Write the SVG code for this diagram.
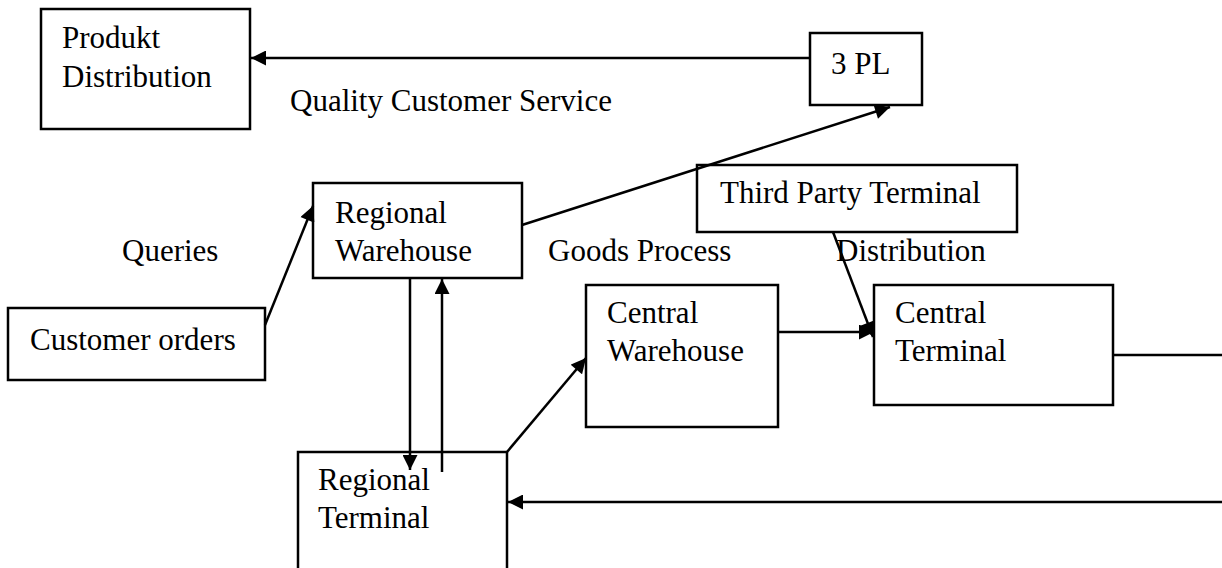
<svg xmlns="http://www.w3.org/2000/svg" width="1222" height="568" viewBox="0 0 1222 568">
<style>
.box{fill:#fff;stroke:#000;stroke-width:2.5}
.t{font-family:"Liberation Serif","Times New Roman",serif;font-size:31px;fill:#000}
.c{stroke:#000;stroke-width:2.5;fill:none}
</style>
<defs>
<marker id="ah" viewBox="0 0 10 10" refX="10" refY="5" markerWidth="16" markerHeight="15" markerUnits="userSpaceOnUse" orient="auto">
<path d="M0,0 L10,5 L0,10 z" fill="#000"/>
</marker>
</defs>
<rect width="1222" height="568" fill="#fff"/>
<g id="produkt-distribution">
<rect class="box" x="41" y="9" width="209" height="120"/>
<text class="t" x="62" y="48">Produkt</text>
<text class="t" x="62" y="87">Distribution</text>
</g>
<g id="3pl">
<rect class="box" x="810" y="33" width="112" height="72"/>
<text class="t" x="831" y="74">3 PL</text>
</g>
<g id="label-quality">
<text class="t" x="290" y="111">Quality Customer Service</text>
</g>
<g id="third-party-terminal">
<rect class="box" x="697" y="165" width="320" height="67"/>
<text class="t" x="720" y="203">Third Party Terminal</text>
</g>
<g id="regional-warehouse">
<rect class="box" x="313" y="183" width="209" height="95"/>
<text class="t" x="335" y="223">Regional</text>
<text class="t" x="335" y="261">Warehouse</text>
</g>
<g id="label-queries"><text class="t" x="122" y="261">Queries</text></g>
<g id="label-goods"><text class="t" x="548" y="261">Goods Process</text></g>
<g id="label-distribution"><text class="t" x="836" y="261">Distribution</text></g>
<g id="customer-orders">
<rect class="box" x="8" y="308" width="257" height="72"/>
<text class="t" x="30" y="350">Customer orders</text>
</g>
<g id="central-warehouse">
<rect class="box" x="586" y="285" width="192" height="142"/>
<text class="t" x="607" y="323">Central</text>
<text class="t" x="607" y="361">Warehouse</text>
</g>
<g id="central-terminal">
<rect class="box" x="874" y="285" width="239" height="120"/>
<text class="t" x="895" y="323">Central</text>
<text class="t" x="895" y="361">Terminal</text>
</g>
<g id="regional-terminal">
<rect class="box" x="298" y="452" width="209" height="130"/>
<text class="t" x="318" y="490">Regional</text>
<text class="t" x="318" y="528">Terminal</text>
</g>
<g id="connectors">
<line class="c" x1="810" y1="58" x2="251" y2="58" marker-end="url(#ah)"/>
<line class="c" x1="522" y1="225" x2="890" y2="107" marker-end="url(#ah)"/>
<line class="c" x1="265" y1="325" x2="313" y2="206" marker-end="url(#ah)"/>
<line class="c" x1="410" y1="279" x2="410" y2="470" marker-end="url(#ah)"/>
<line class="c" x1="442" y1="472" x2="442" y2="279" marker-end="url(#ah)"/>
<line class="c" x1="507" y1="452" x2="586" y2="358" marker-end="url(#ah)"/>
<line class="c" x1="778" y1="332" x2="874" y2="332" marker-end="url(#ah)"/>
<line class="c" x1="833" y1="232" x2="873" y2="337" marker-end="url(#ah)"/>
<line class="c" x1="1113" y1="355" x2="1222" y2="355"/>
<line class="c" x1="1222" y1="502" x2="508" y2="502" marker-end="url(#ah)"/>
</g>
</svg>
